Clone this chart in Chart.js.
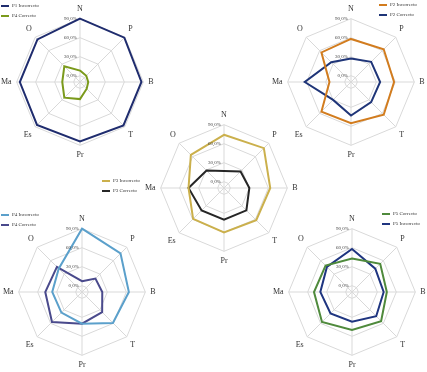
<!DOCTYPE html>
<html>
<head>
<meta charset="utf-8">
<script src="https://cdn.jsdelivr.net/npm/chart.js@4.4.1/dist/chart.umd.min.js"></script>
<style>
  body { margin: 0; background: #fff; }
  #page { position: relative; width: 427px; height: 372px; overflow: hidden; font-family: "Liberation Serif", serif; }
  canvas { position: absolute; }
  .leg { position: absolute; font-size: 5px; line-height: 10px; color: #333; white-space: nowrap; }
  .leg i { display: inline-block; width: 8px; height: 1.5px; vertical-align: middle; margin-right: 3px; }
</style>
</head>
<body>
<div id="page">
  <canvas id="c1" width="158" height="158"></canvas>
  <canvas id="c2" width="158" height="158"></canvas>
  <canvas id="c3" width="158" height="158"></canvas>
  <canvas id="c4" width="158" height="158"></canvas>
  <canvas id="c5" width="158" height="158"></canvas>
</div>
<script>
// ejes del radar y marcas de la escala
const axisLabels = ['N', 'P', 'B', 'T', 'Pr', 'Es', 'Ma', 'O'];
const tickValues = [0, 30, 60, 90];

// valores en %
const p1Incorrecto = [90, 89, 87, 87, 84, 86, 85, 85];
const p4CorrectoA  = [8, 4, 3, 5, 17, 25, 18, 25];
const p2Incorrecto = [58, 63, 58, 63, 55, 56, 24, 56];
const p2Correcto   = [27, 35, 36, 35, 43, 30, 63, 34];
const p3Incorrecto = [74, 79, 63, 62, 60, 59, 46, 64];
const p3Correcto   = [17, 27, 30, 40, 40, 40, 46, 29];
const p4Incorrecto = [90, 76, 64, 59, 40, 36, 37, 42];
const p4Correcto   = [7, 20, 22, 35, 40, 57, 48, 46];
const p5Correcto   = [43, 53, 45, 55, 50, 57, 50, 49];
const p5Incorrecto = [58, 42, 40, 44, 37, 38, 40, 46];

/* etiquetas de la escala a la izquierda del eje N */
const tickLabelPlugin = {
  id: 'tickLabels',
  afterDraw(chart) {
    const r = chart.scales.r;
    const ctx = chart.ctx;
    ctx.save();
    ctx.font = '5px "Liberation Serif"';
    ctx.fillStyle = '#404040';
    ctx.textAlign = 'right';
    ctx.textBaseline = 'middle';
    tickValues.forEach(v => {
      const y = r.yCenter - r.getDistanceFromCenterForValue(v);
      ctx.fillText(v.toFixed(1).replace('.', ',') + '%', r.xCenter - 3, y);
    });
    ctx.restore();
  }
};

function radar(id, cx, cy, series, legend) {
  const canvas = document.getElementById(id);
  canvas.style.left = (cx - 81) + 'px';
  canvas.style.top = (cy - 79) + 'px';
  new Chart(canvas, {
    type: 'radar',
    data: {
      labels: axisLabels,
      datasets: series.map(s => ({
        label: s.label,
        data: s.data,
        borderColor: s.color,
        borderWidth: 2,
        pointRadius: 0,
        fill: false
      }))
    },
    options: {
      responsive: false,
      animation: false,
      plugins: { legend: { display: false }, tooltip: { enabled: false } },
      scales: {
        r: {
          min: -10,
          max: 90,
          ticks: { stepSize: 30, display: false },
          grid: { color: '#d9d9d9', lineWidth: 1 },
          angleLines: { color: '#d9d9d9', lineWidth: 1 },
          pointLabels: { font: { family: 'Liberation Serif', size: 8 }, color: '#333', padding: 5 }
        }
      }
    },
    plugins: [tickLabelPlugin]
  });

  // leyenda
  const leg = document.createElement('div');
  leg.className = 'leg';
  leg.style.left = legend.x + 'px';
  leg.style.top = legend.y + 'px';
  leg.innerHTML = series.map(s => '<div><i style="background:' + s.color + '"></i>' + s.label + '</div>').join('');
  document.getElementById('page').appendChild(leg);
}

radar('c1', 80, 82, [
  { label: 'P1 Incorrecto', data: p1Incorrecto, color: '#1f2c6e' },
  { label: 'P4 Correcto', data: p4CorrectoA, color: '#7b9a1c' }
], { x: 1, y: 1 });

radar('c2', 351, 82, [
  { label: 'P2 Incorrecto', data: p2Incorrecto, color: '#d27c1e' },
  { label: 'P2 Correcto', data: p2Correcto, color: '#1f3578' }
], { x: 379, y: 0 });

radar('c3', 224, 188, [
  { label: 'P3 Incorrecto', data: p3Incorrecto, color: '#cbb04c' },
  { label: 'P3 Correcto', data: p3Correcto, color: '#262626' }
], { x: 102, y: 176 });

radar('c4', 82, 292, [
  { label: 'P4 Incorrecto', data: p4Incorrecto, color: '#5ba0cb' },
  { label: 'P4 Correcto', data: p4Correcto, color: '#4a4a8c' }
], { x: 1, y: 210 });

radar('c5', 352, 292, [
  { label: 'P5 Correcto', data: p5Correcto, color: '#4f8a3c' },
  { label: 'P5 Incorrecto', data: p5Incorrecto, color: '#1f3580' }
], { x: 382, y: 209 });
</script>
</body>
</html>
